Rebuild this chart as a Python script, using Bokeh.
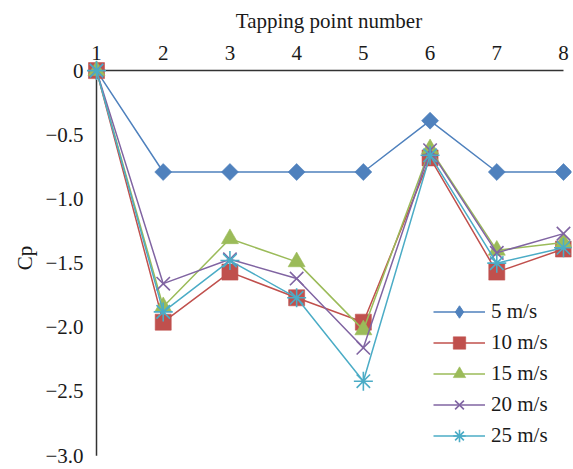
import math
from bokeh.plotting import figure
from bokeh.models import Range1d, FixedTicker, CustomJSTickFormatter, Legend, LegendItem
from bokeh.embed import file_html
from bokeh.resources import INLINE

# ---- data ----
points = [1, 2, 3, 4, 5, 6, 7, 8]
y_ticks = [0, -0.5, -1.0, -1.5, -2.0, -2.5, -3.0]
series_names = ["5 m/s", "10 m/s", "15 m/s", "20 m/s", "25 m/s"]
cp_5 = [0, -0.79, -0.79, -0.79, -0.79, -0.39, -0.79, -0.79]
cp_10 = [0, -1.96, -1.57, -1.77, -1.96, -0.68, -1.57, -1.39]
cp_15 = [0, -1.84, -1.31, -1.49, -2.02, -0.61, -1.40, -1.34]
cp_20 = [0, -1.66, -1.47, -1.62, -2.16, -0.62, -1.42, -1.27]
cp_25 = [0, -1.88, -1.48, -1.77, -2.42, -0.66, -1.50, -1.38]

series = [cp_5, cp_10, cp_15, cp_20, cp_25]
colors = ["#4F81BD", "#C0504D", "#9BBB59", "#8064A2", "#4BACC6"]
markers = ["square", "square", "triangle", "x", "asterisk"]
legend_markers = ["diamond", "square", "triangle", "x", "asterisk"]
angles = [math.pi / 4, 0, 0, 0, 0]
sizes = [12, 16, 17, 19, 19]

FONT = "Liberation Serif"
TXT = "#1a1a1a"
FS = "21px"

p = figure(width=573, height=469, output_backend="svg", toolbar_location=None,
           x_axis_location="above",
           x_range=Range1d(0.85, 8.12), y_range=Range1d(-3.03, 0.11),
           min_border_left=86, min_border_right=2, min_border_top=56, min_border_bottom=10)
p.outline_line_color = None
p.grid.visible = False
p.background_fill_color = "white"

# axes
p.xaxis.ticker = FixedTicker(ticks=points)
p.yaxis.ticker = FixedTicker(ticks=y_ticks)
p.yaxis.formatter = CustomJSTickFormatter(code="""
    if (Math.abs(tick) < 1e-9) return "0";
    return "\u2212" + Math.abs(tick).toFixed(1);
""")
p.xaxis.axis_label = "Tapping point number"
p.yaxis.axis_label = "Cp"
for ax in (p.xaxis, p.yaxis):
    ax.axis_line_color = None
    ax.major_tick_line_color = None
    ax.minor_tick_line_color = None
    ax.major_tick_out = 0
    ax.major_tick_in = 0
    ax.major_label_text_font = FONT
    ax.major_label_text_font_size = FS
    ax.major_label_text_color = TXT
    ax.axis_label_text_font = FONT
    ax.axis_label_text_font_size = FS
    ax.axis_label_text_font_style = "normal"
    ax.axis_label_text_color = TXT
p.xaxis.major_label_standoff = -3
p.xaxis.axis_label_standoff = 10
p.yaxis.major_label_standoff = 3
p.yaxis.axis_label_standoff = 5

# axis lines through the data origin
p.line(x=[points[0], points[-1]], y=[y_ticks[0], y_ticks[0]], line_color="#333333", line_width=1.5)
p.line(x=[points[0], points[0]], y=[y_ticks[0], y_ticks[-1]], line_color="#333333", line_width=1.5)

items = []
for name, vals, c, m, lm, a, s in zip(series_names, series, colors, markers, legend_markers, angles, sizes):
    ln = p.line(points, vals, line_color=c, line_width=1.5)
    if lm != m:
        # narrow diamond hidden beneath the plot's diamonds, used for the legend swatch
        lg = p.scatter(points, vals, marker=lm, size=14, fill_color=c, line_color=c, line_width=1)
    if m in ("x", "asterisk"):
        sc = p.scatter(points, vals, marker=m, size=s, line_color=c, line_width=1.6, angle=a)
    else:
        sc = p.scatter(points, vals, marker=m, size=s, fill_color=c, line_color=c,
                       line_alpha=0.6, line_width=1, angle=a)
    if lm == m:
        lg = sc
    items.append(LegendItem(label=name, renderers=[ln, lg]))

legend = Legend(items=items, location=(347, 8), glyph_width=52, glyph_height=31,
                spacing=0, padding=0, margin=0, label_standoff=6,
                label_text_font=FONT, label_text_font_size=FS, label_text_color=TXT,
                background_fill_alpha=0, border_line_color=None)
p.add_layout(legend, "center")

open("out.html", "w").write(file_html(p, INLINE))
